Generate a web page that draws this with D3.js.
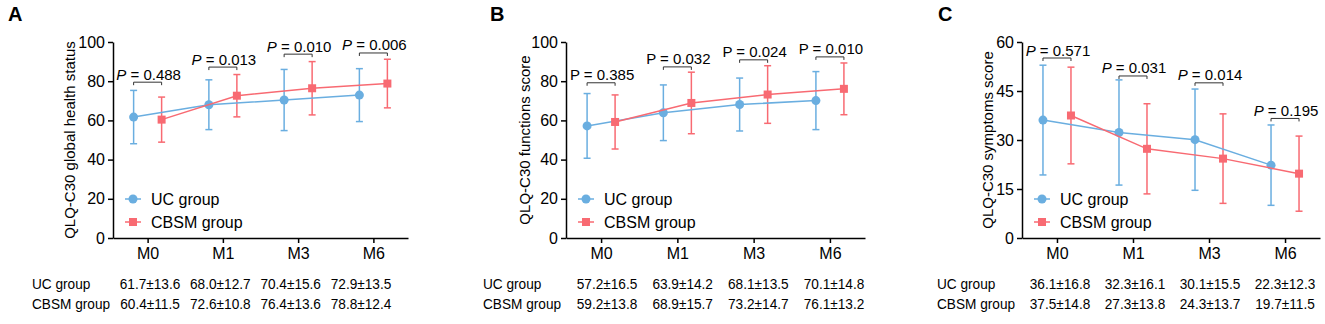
<!DOCTYPE html>
<html>
<head>
<meta charset="utf-8">
<script src="https://cdn.jsdelivr.net/npm/d3@7"></script>
<style>
  html, body { margin: 0; padding: 0; background: #fff; }
  svg { display: block; font-family: Arial, "Liberation Sans", sans-serif; }
</style>
</head>
<body>
<div id="chart"></div>
<script>
// time points and groups
const categories = ["M0", "M1", "M3", "M6"];
const groups = ["UC group", "CBSM group"];

// panel A: global health status
const globalUcMean = [61.7, 68.0, 70.4, 72.9];
const globalUcSd = [13.6, 12.7, 15.6, 13.5];
const globalCbsmMean = [60.4, 72.6, 76.4, 78.8];
const globalCbsmSd = [11.5, 10.8, 13.6, 12.4];
const globalP = ["0.488", "0.013", "0.010", "0.006"];
const globalBracket = [79.5, 87.2, 93.8, 94.4];

// panel B: functions score
const functionsUcMean = [57.2, 63.9, 68.1, 70.1];
const functionsUcSd = [16.5, 14.2, 13.5, 14.8];
const functionsCbsmMean = [59.2, 68.9, 73.2, 76.1];
const functionsCbsmSd = [13.8, 15.7, 14.7, 13.2];
const functionsP = ["0.385", "0.032", "0.024", "0.010"];
const functionsBracket = [79.2, 87.3, 90.9, 92.4];

// panel C: symptoms score
const symptomsUcMean = [36.1, 32.3, 30.1, 22.3];
const symptomsUcSd = [16.8, 16.1, 15.5, 12.3];
const symptomsCbsmMean = [37.5, 27.3, 24.3, 19.7];
const symptomsCbsmSd = [14.8, 13.8, 13.7, 11.5];
const symptomsP = ["0.571", "0.031", "0.014", "0.195"];
const symptomsBracket = [55.1, 49.6, 47.5, 36.6];

const blue = "#6aaee0";
const red = "#f86a72";

const width = 1325, height = 324;
const svg = d3.select("#chart").append("svg")
    .attr("width", width)
    .attr("height", height);

// narrow text like the table in the figure
function squeeze(sel, k) {
    sel.each(function () {
        const len = this.getComputedTextLength();
        d3.select(this).attr("textLength", len * k).attr("lengthAdjust", "spacingAndGlyphs");
    });
}

function renderPanel(cfg) {
    const g = svg.append("g");

    // scales
    const x = d3.scalePoint().domain(categories).range([cfg.x0, cfg.x1]).padding(0.46);
    const y = d3.scaleLinear().domain([0, cfg.yMax]).range([238, 42]);
    const off = 14;

    // panel letter
    g.append("text")
        .attr("x", cfg.letterX).attr("y", 21)
        .attr("font-size", 20).attr("font-weight", "bold")
        .text(cfg.letter);

    // y axis
    const yAxis = g.append("g")
        .attr("transform", `translate(${cfg.x0},0)`)
        .call(d3.axisLeft(y).tickValues(cfg.yTicks).tickSize(5).tickSizeOuter(0).tickPadding(3));
    yAxis.selectAll("text").attr("font-size", 16).attr("fill", "#000").attr("font-family", null);
    yAxis.selectAll("line, path").attr("stroke", "#000").attr("stroke-width", 1.5);

    // x axis
    const xAxis = g.append("g")
        .attr("transform", "translate(0,238)")
        .call(d3.axisBottom(x).tickSize(5).tickSizeOuter(0).tickPadding(5));
    xAxis.selectAll("text").attr("font-size", 16).attr("fill", "#000").attr("font-family", null);
    xAxis.selectAll("line, path").attr("stroke", "#000").attr("stroke-width", 1.5);

    // y title
    g.append("text")
        .attr("transform", `translate(${cfg.titleX},140) rotate(-90)`)
        .attr("text-anchor", "middle")
        .attr("font-size", 15)
        .text(cfg.title);

    const series = [
        { name: groups[0], mean: cfg.ucMean, sd: cfg.ucSd, color: blue, dx: -off, shape: "circle" },
        { name: groups[1], mean: cfg.cbsmMean, sd: cfg.cbsmSd, color: red, dx: off, shape: "square" }
    ];

    // error bars
    series.forEach(s => {
        const eb = g.append("g");
        categories.forEach((c, i) => {
            const cx = x(c) + s.dx;
            const lo = y(s.mean[i] - s.sd[i]), hi = y(s.mean[i] + s.sd[i]);
            eb.append("line").attr("x1", cx).attr("x2", cx).attr("y1", lo).attr("y2", hi)
                .attr("stroke", s.color).attr("stroke-width", 1.5);
            [lo, hi].forEach(v => {
                eb.append("line").attr("x1", cx - 3.5).attr("x2", cx + 3.5).attr("y1", v).attr("y2", v)
                    .attr("stroke", s.color).attr("stroke-width", 1.5);
            });
        });
    });

    // lines + markers
    series.forEach(s => {
        const line = d3.line().x((d, i) => x(categories[i]) + s.dx).y(d => y(d));
        g.append("path").datum(s.mean)
            .attr("d", line).attr("fill", "none")
            .attr("stroke", s.color).attr("stroke-width", 1.5);
        categories.forEach((c, i) => drawMarker(g, s.shape, x(c) + s.dx, y(s.mean[i]), s.color));
    });

    // p-value brackets
    categories.forEach((c, i) => {
        const by = y(cfg.bracket[i]);
        const xa = x(c) - off, xb = x(c) + off;
        g.append("path")
            .attr("d", `M${xa},${by + 3}V${by}H${xb}V${by + 3}`)
            .attr("fill", "none").attr("stroke", "#333").attr("stroke-width", 1);
        const t = g.append("text")
            .attr("x", x(c) + 1).attr("y", by - 2.5)
            .attr("text-anchor", "middle")
            .attr("font-size", 15);
        t.append("tspan").attr("font-style", cfg.italicP ? "italic" : null).text("P");
        t.append("tspan").text(" = " + cfg.p[i]);
    });

    // legend
    series.forEach((s, k) => {
        const ly = 199 + k * 23;
        const lx = cfg.x0 + 20;
        g.append("line").attr("x1", lx - 8).attr("x2", lx + 8).attr("y1", ly).attr("y2", ly)
            .attr("stroke", s.color).attr("stroke-width", 1.5);
        drawMarker(g, s.shape, lx, ly, s.color);
        g.append("text").attr("x", lx + 18).attr("y", ly + 5.5)
            .attr("font-size", 16).text(s.name);
    });

    // table under the chart
    const tx = d3.scalePoint().domain(categories).range(cfg.tableRange);
    series.forEach((s, k) => {
        const ry = 288.5 + k * 20;
        g.append("text").attr("x", cfg.tableLabelX).attr("y", ry)
            .attr("font-size", 15.5).text(s.name)
            .call(squeeze, 0.88);
        categories.forEach((c, i) => {
            g.append("text").attr("x", tx(c)).attr("y", ry)
                .attr("text-anchor", "middle").attr("font-size", 15.5)
                .text(s.mean[i].toFixed(1) + "±" + s.sd[i].toFixed(1))
                .call(squeeze, 0.88);
        });
    });
}

function drawMarker(g, shape, cx, cy, color) {
    if (shape === "circle") {
        g.append("circle").attr("cx", cx).attr("cy", cy).attr("r", 4.5).attr("fill", color);
    } else {
        g.append("rect").attr("x", cx - 4).attr("y", cy - 4).attr("width", 8).attr("height", 8).attr("fill", color);
    }
}

renderPanel({
    letter: "A", letterX: 8, x0: 113, x1: 408, yMax: 100, yTicks: [0, 20, 40, 60, 80, 100],
    title: "QLQ-C30 global health status", titleX: 75,
    ucMean: globalUcMean, ucSd: globalUcSd, cbsmMean: globalCbsmMean, cbsmSd: globalCbsmSd,
    p: globalP, bracket: globalBracket, italicP: true,
    tableLabelX: 32, tableRange: [150, 361]
});

renderPanel({
    letter: "B", letterX: 490, x0: 566, x1: 865, yMax: 100, yTicks: [0, 20, 40, 60, 80, 100],
    title: "QLQ-C30 functions score", titleX: 530,
    ucMean: functionsUcMean, ucSd: functionsUcSd, cbsmMean: functionsCbsmMean, cbsmSd: functionsCbsmSd,
    p: functionsP, bracket: functionsBracket, italicP: false,
    tableLabelX: 483, tableRange: [607, 834]
});

renderPanel({
    letter: "C", letterX: 938, x0: 1022, x1: 1320, yMax: 60, yTicks: [0, 15, 30, 45, 60],
    title: "QLQ-C30 symptoms score", titleX: 993,
    ucMean: symptomsUcMean, ucSd: symptomsUcSd, cbsmMean: symptomsCbsmMean, cbsmSd: symptomsCbsmSd,
    p: symptomsP, bracket: symptomsBracket, italicP: true,
    tableLabelX: 937, tableRange: [1060, 1285]
});
</script>
</body>
</html>
